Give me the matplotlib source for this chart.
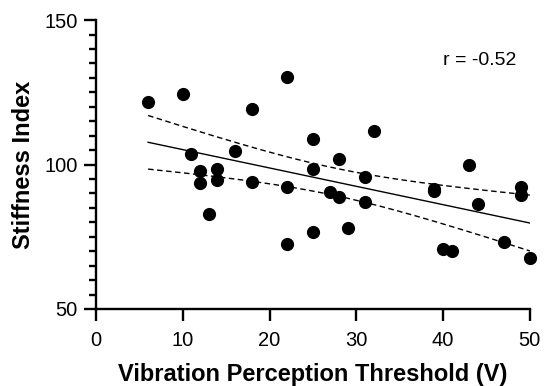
import numpy as np
import matplotlib
matplotlib.use("Agg")
import matplotlib.pyplot as plt

plt.rcParams['font.family'] = ['Liberation Sans', 'DejaVu Sans']

# vibration perception threshold (V) and stiffness index
vpt = [6, 10, 11, 12, 12, 13, 14, 14, 16, 18, 18, 22, 22, 22, 25, 25, 25,
       27, 28, 28, 29, 31, 31, 32, 39, 39, 43, 44, 40, 41, 47, 49, 49, 50]
stiff = [121.6, 124.4, 103.6, 97.6, 93.6, 83.0, 98.3, 94.8, 104.8, 119.2, 94.1,
         130.4, 92.3, 72.6, 108.7, 98.3, 76.8, 90.5, 101.8, 88.6, 78.0, 95.7,
         87.0, 111.7, 91.6, 90.9, 100.0, 86.3, 70.6, 69.9, 73.3, 92.1, 89.6, 67.8]
r_text = "r = -0.52"

x = np.array(vpt, dtype=float)
y = np.array(stiff, dtype=float)
n = len(x)
slope, intercept = np.polyfit(x, y, 1)
xs = np.linspace(x.min(), x.max(), 200)
fit = intercept + slope * xs
resid = y - (intercept + slope * x)
s = np.sqrt(np.sum(resid ** 2) / (n - 2))
tcrit = 2.037  # t(0.975, df=32)
se = s * np.sqrt(1 / n + (xs - x.mean()) ** 2 / np.sum((x - x.mean()) ** 2))

fig = plt.figure(figsize=(5.44, 3.86), dpi=100)
ax = fig.add_axes([0.1765, 0.1995, 0.7975, 0.7485])

ax.plot(xs, fit, color='black', lw=1.0)
ax.plot(xs, fit + tcrit * se, color='black', lw=1.0, ls=(0, (4, 2.5)))
ax.plot(xs, fit - tcrit * se, color='black', lw=1.0, ls=(0, (4, 2.5)))
ax.scatter(x, y, s=72, color='black', zorder=3, clip_on=False)

ax.set_xlim(0, 50)
ax.set_ylim(50, 150)
ax.set_xticks([0, 10, 20, 30, 40, 50])
ax.set_yticks([50, 100, 150])
ax.set_yticks(np.arange(50, 151, 5), minor=True)

for side in ['top', 'right']:
    ax.spines[side].set_visible(False)
for side in ['left', 'bottom']:
    ax.spines[side].set_linewidth(1.7)

ax.tick_params(axis='both', which='major', length=8.5, width=1.7, labelsize=14.5)
ax.tick_params(axis='x', which='major', pad=7.5)
ax.tick_params(axis='y', which='major', pad=4.5)
ax.tick_params(axis='y', which='minor', length=5, width=1.7)

ax.set_xlabel("Vibration Perception Threshold (V)", fontsize=17, fontweight='bold', labelpad=9)
ax.set_ylabel("Stiffness Index", fontsize=17, fontweight='bold', labelpad=7)

ax.text(40, 136, r_text, fontsize=14, ha='left', va='center')

fig.savefig("out.png", dpi=100)
